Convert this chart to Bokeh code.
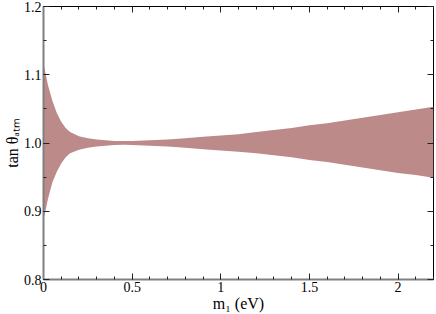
from bokeh.plotting import figure
from bokeh.models import LinearAxis, FixedTicker, Range1d
from bokeh.embed import file_html
from bokeh.resources import INLINE

# ---- data ----
m1 = [0, 0.01, 0.025, 0.05, 0.075, 0.1, 0.125, 0.15, 0.2, 0.25, 0.3, 0.35, 0.4,
      0.45, 0.5, 0.6, 0.7, 0.8, 0.9, 1.0, 1.1, 1.2, 1.3, 1.4, 1.5, 1.6, 1.7,
      1.8, 1.9, 2.0, 2.1, 2.2]
tan_upper = [1.117, 1.104, 1.085, 1.062, 1.044, 1.031, 1.022, 1.016, 1.010, 1.007,
             1.005, 1.004, 1.003, 1.0028, 1.003, 1.004, 1.005, 1.007, 1.009, 1.011,
             1.013, 1.016, 1.019, 1.022, 1.026, 1.029, 1.033, 1.037, 1.041, 1.045,
             1.049, 1.053]
tan_lower = [0.888, 0.899, 0.918, 0.942, 0.958, 0.970, 0.979, 0.985, 0.990, 0.993,
             0.995, 0.996, 0.997, 0.9973, 0.997, 0.996, 0.995, 0.993, 0.991, 0.989,
             0.987, 0.985, 0.982, 0.979, 0.975, 0.972, 0.968, 0.964, 0.960, 0.956,
             0.953, 0.949]

x_ticks = [0, 0.5, 1, 1.5, 2]
x_tick_labels = ["0", "0.5", "1", "1.5", "2"]
x_minor = [round(0.1 * i, 1) for i in range(23)]
y_ticks = [0.8, 0.9, 1.0, 1.1, 1.2]
y_tick_labels = ["0.8", "0.9", "1.0", "1.1", "1.2"]
y_minor = [round(0.8 + 0.05 * i, 2) for i in range(9)]

x_title = "m\u2081 (eV)"
y_title = "tan \u03b8\u2090\u209c\u2098"

FONT = "Liberation Serif"
BAND = "#bb8a89"

p = figure(width=436, height=314, x_range=Range1d(0, 2.2), y_range=Range1d(0.8, 1.2),
           output_backend="svg", toolbar_location=None,
           min_border_left=41, min_border_right=3, min_border_top=6, min_border_bottom=34)
p.xgrid.visible = False
p.ygrid.visible = False
p.outline_line_color = "black"
p.outline_line_width = 1
p.background_fill_color = "white"
p.border_fill_color = "white"

p.varea(x=m1, y1=tan_lower, y2=tan_upper, fill_color=BAND, fill_alpha=1.0)

xt = FixedTicker(ticks=x_ticks, minor_ticks=x_minor)
yt = FixedTicker(ticks=y_ticks, minor_ticks=y_minor)


def style(ax, ticker, labels=None, title=None, show=True):
    ax.ticker = ticker
    ax.major_tick_in = 6
    ax.major_tick_out = 0
    ax.minor_tick_in = 3
    ax.minor_tick_out = 0
    ax.major_tick_line_color = "#222222"
    ax.minor_tick_line_color = "#222222"
    if show:
        ax.major_label_text_font = FONT
        ax.major_label_text_font_size = "14px"
        ax.major_label_text_color = "black"
        ax.major_label_standoff = 2
        ax.major_label_overrides = {t: l for t, l in zip(ticker.ticks, labels)}
        ax.axis_line_color = "#808080"
        ax.axis_line_width = 2
        ax.axis_label = title
        ax.axis_label_text_font = FONT
        ax.axis_label_text_font_size = "16px"
        ax.axis_label_text_font_style = "normal"
        ax.axis_label_text_color = "black"
        ax.axis_label_standoff = 0
    else:
        ax.major_label_overrides = {t: "" for t in ticker.ticks}
        ax.major_label_text_font_size = "1px"
        ax.major_label_standoff = 0
        ax.axis_line_color = None


style(p.xaxis[0], xt, x_tick_labels, x_title)
style(p.yaxis[0], yt, y_tick_labels, y_title)

top = LinearAxis()
style(top, FixedTicker(ticks=x_ticks, minor_ticks=x_minor), show=False)
p.add_layout(top, "above")
right = LinearAxis()
style(right, FixedTicker(ticks=y_ticks, minor_ticks=y_minor), show=False)
p.add_layout(right, "right")

open("out.html", "w").write(file_html(p, INLINE))
